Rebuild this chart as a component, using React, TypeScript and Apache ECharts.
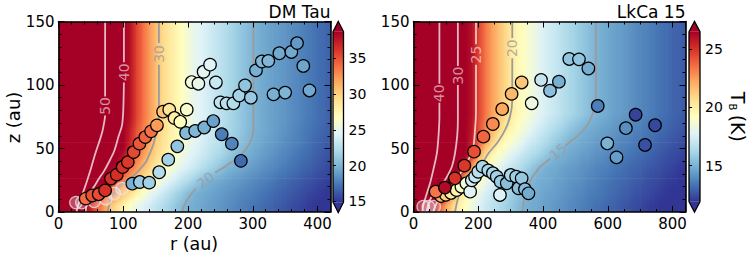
import React, { useEffect, useRef } from 'react';
import * as echarts from 'echarts';

const FONT = 'DejaVu Sans';
const PALETTE = ['#313695', '#4575b4', '#74add1', '#abd9e9', '#e0f3f8', '#ffffbf', '#fee090', '#fdae61', '#f46d43', '#d73027', '#a50026'];
const HOT = 'rgba(255,255,255,0.72)';
const COOL = '#9b9b9b';

// ---------------- DM Tau ----------------
const dmRMax = 420;
const dmTRange = [14.9, 38.7];
const dmCbTicks = [15, 20, 25, 30, 35];
const dmRStep = 10; // temperature knots every 10 au in r (0..420)
const dmRowZ = [5, 15, 25, 35, 45, 55, 65, 75]; // z (au) of each row of read temperatures
const dmT05 = [65, 59, 54, 49, 40, 36.8, 34.2, 32.3, 30.4, 29.0, 27.7, 26.4, 25.1, 24.4, 23.7, 23.0, 22.4, 21.7, 21.0, 20.3, 19.9, 19.6, 19.4, 19.1, 18.9, 18.6, 18.4, 18.1, 17.8, 17.6, 17.3, 17.1, 16.8, 16.6, 16.3, 16.0, 15.8, 15.5, 15.3, 15.0, 14.8, 14.5, 14.3];
const dmT15 = [70, 64, 58, 52, 47, 40.5, 37.9, 35.4, 33.7, 32.1, 30.5, 29.1, 27.7, 26.4, 25.1, 24.3, 23.5, 22.7, 21.9, 21.2, 20.4, 19.9, 19.6, 19.4, 19.1, 18.9, 18.6, 18.4, 18.1, 17.9, 17.7, 17.4, 17.2, 16.9, 16.7, 16.4, 16.2, 15.9, 15.7, 15.4, 15.2, 14.9, 14.7];
const dmT25 = [76, 70, 63, 57, 51, 46.5, 42.8, 39.4, 37.1, 34.9, 33.4, 32.0, 30.6, 29.2, 27.8, 26.7, 25.4, 24.5, 23.7, 22.9, 22.2, 21.4, 20.6, 19.95, 19.7, 19.4, 19.2, 18.9, 18.7, 18.4, 18.2, 17.9, 17.7, 17.4, 17.1, 16.9, 16.6, 16.4, 16.1, 15.9, 15.6, 15.4, 15.1];
const dmT35 = [80, 74, 68, 62, 55, 49.6, 46, 43, 40, 37.8, 35.5, 33.9, 32.4, 30.9, 29.6, 28.5, 27.4, 26.4, 25.3, 24.5, 23.9, 23.3, 22.6, 22.0, 21.4, 20.8, 20.1, 19.8, 19.5, 19.2, 18.9, 18.6, 18.3, 18.1, 17.8, 17.5, 17.2, 16.9, 16.6, 16.4, 16.1, 15.8, 15.5];
const dmT45 = [84, 78, 72, 66, 60, 53, 48.5, 45, 42.5, 40, 37.8, 35.5, 33.8, 32.3, 30.8, 29.5, 28.6, 27.5, 26.5, 25.6, 24.7, 24.2, 23.6, 23.0, 22.4, 21.9, 21.3, 20.7, 20.1, 19.8, 19.5, 19.1, 18.8, 18.5, 18.2, 17.9, 17.6, 17.3, 17.0, 16.7, 16.4, 16.1, 15.8];
const dmT55 = [86, 81, 76, 70, 64, 58, 51, 47.5, 44.5, 41.8, 39.3, 37.0, 34.8, 33.2, 31.7, 30.0, 29.1, 28.1, 27.2, 26.3, 25.3, 24.6, 24.1, 23.5, 23.0, 22.5, 21.9, 21.4, 20.8, 20.3, 19.8, 19.5, 19.2, 18.9, 18.6, 18.3, 18.0, 17.7, 17.4, 17.0, 16.7, 16.4, 16.1];
const dmT65 = [88, 83, 78, 72, 66, 60, 53, 48.5, 45, 42, 39.5, 37.3, 35.0, 33.4, 31.9, 30.3, 29.3, 28.3, 27.4, 26.5, 25.6, 24.8, 24.3, 23.7, 23.2, 22.7, 22.1, 21.6, 21.1, 20.5, 20.0, 19.7, 19.4, 19.1, 18.8, 18.5, 18.2, 17.8, 17.5, 17.2, 16.9, 16.6, 16.3];
const dmTTop = [90, 85, 80, 75, 70, 64, 57, 51, 47, 43.5, 40.2, 37.95, 35.7, 33.9, 32.3, 30.8, 29.5, 28.6, 27.7, 26.8, 25.8, 24.9, 24.4, 23.9, 23.3, 22.8, 22.2, 21.7, 21.1, 20.6, 20.1, 19.7, 19.4, 19.1, 18.9, 18.6, 18.3, 18.0, 17.7, 17.4, 17.1, 16.8, 16.5];
const dmRows = [dmT05, dmT15, dmT25, dmT35, dmT45, dmT55, dmT65, dmTTop];

const dmC50a = [[72, 150], [72, 91]];
const dmC50b = [[72, 76], [71, 72], [68, 64], [64, 57], [60, 51], [55, 43], [50, 34], [45, 26], [40, 18.4], [35, 11.5], [32, 7.9], [29, 3], [28, 0]];
const dmC40a = [[101, 150], [101, 118]];
const dmC40b = [[101, 102], [100, 80], [98, 68], [93, 60], [86, 48], [77.5, 39], [70, 32], [62, 26], [55, 20], [49, 15.7], [45, 10], [43, 5], [42, 0]];
const dmC30a = [[155, 150], [155, 133]];
const dmC30b = [[155, 116], [155, 80], [154, 68], [151, 62], [146, 52.5], [140, 45], [135, 39.3], [126, 34], [117, 29], [106, 25], [96.5, 21], [88, 16], [81, 10.5], [78, 5], [76, 0]];
const dmC20a = [[301, 150], [301, 66], [299, 59], [294, 53], [287, 48], [276, 42], [265, 38.5], [252, 34], [242, 31]];
const dmC20b = [[212, 18.5], [204, 13.5], [197, 8], [193, 4], [191, 0]];
const dmLabels: [number, number, string, number, string][] = [
  [72, 83.5, '50', 90, HOT], [101, 110, '40', 90, HOT], [155, 124.5, '30', 90, COOL], [227, 25, '20', 39, COOL],
];
const dmHollow = [[27, 7.4], [36, 7.4], [55, 8.4], [73, 10.5], [86, 14.5], [98, 18.4]];
const dmPoints = [
  [114, 22.3, 19.8], [125.5, 23.6, 21.3], [140, 23.1, 21.6], [155.5, 31.3, 22.4], [169.5, 41.2, 21.7], [183.5, 51.7, 20.9],
  [197, 62.2, 20.4], [211, 63.8, 20.2], [225, 66.5, 19.8], [239, 71.6, 19.2], [252, 61.2, 17.6], [267.6, 53.8, 17.9], [281.6, 40.3, 16.9],
  [42, 10.5, 34.0], [52, 13, 35.0], [62, 14, 35.2], [72, 17, 36.3], [81, 26.3, 36.4], [90, 29.4, 36.4], [99, 35.4, 36.3],
  [107, 39.3, 36.0], [116, 47.2, 35.3], [125, 53.8, 34.8], [134, 59, 34.3], [143, 63.5, 33.8], [152, 68.2, 32.2],
  [161.5, 79, 30.5], [171, 80.6, 28.8], [179, 74, 28.0], [188, 71, 26.8], [198, 80.6, 26.2],
  [205.6, 102.3, 25.6], [216, 101, 25.0], [224, 110.4, 24.7], [234, 116, 24.5], [243, 102, 23.4],
  [250, 86.3, 23.0], [259.5, 85.5, 22.7], [270, 85.5, 22.4], [279, 91.7, 21.7], [288, 99.6, 20.9], [297, 90, 21.2],
  [305, 111.5, 19.8], [314, 118.5, 20.2], [324, 119, 20.2], [341, 125, 19.5], [359.6, 126, 19.5], [368.4, 133, 18.8],
  [378, 115, 19.3], [332, 92.6, 19.8], [350, 94, 20.1], [387.5, 95.7, 19.5],
];

// ---------------- LkCa 15 ----------------
const lkRMax = 840;
const lkTRange = [11.9, 26.5];
const lkCbTicks = [15, 20, 25];
const lkRStep = 20; // knots every 20 au (0..840)
const lkRowZ = [5, 15, 25, 35, 45, 55, 65, 78];
const lkT05 = [52, 42, 34.4, 27.0, 24.0, 22.2, 20.9, 19.8, 19.1, 18.4, 17.7, 17.2, 16.8, 16.5, 16.1, 15.7, 15.3, 15.0, 14.8, 14.7, 14.5, 14.4, 14.2, 14.1, 13.9, 13.8, 13.6, 13.5, 13.3, 13.2, 13.0, 12.9, 12.7, 12.6, 12.4, 12.3, 12.1, 12.0, 11.8, 11.7, 11.5, 11.4, 11.2];
const lkT15 = [58, 48, 40, 32.6, 27.7, 25.0, 22.5, 20.7, 19.6, 18.9, 18.2, 17.5, 17.1, 16.7, 16.4, 16.0, 15.6, 15.2, 14.9, 14.8, 14.6, 14.5, 14.4, 14.2, 14.1, 13.9, 13.8, 13.6, 13.5, 13.4, 13.2, 13.1, 12.9, 12.8, 12.6, 12.5, 12.4, 12.2, 12.1, 11.9, 11.8, 11.6, 11.5];
const lkT25 = [62, 54, 46, 38.1, 33.8, 29.7, 26.5, 23.8, 21.3, 19.7, 19.1, 18.4, 17.7, 17.2, 16.8, 16.4, 16.0, 15.6, 15.2, 14.9, 14.8, 14.7, 14.5, 14.4, 14.2, 14.1, 14.0, 13.8, 13.7, 13.5, 13.4, 13.2, 13.1, 13.0, 12.8, 12.7, 12.5, 12.4, 12.3, 12.1, 12.0, 11.8, 11.7];
const lkT35 = [66, 56, 48, 41.5, 37, 33, 29.9, 27.1, 24.8, 22.4, 20.5, 19.5, 18.8, 18.1, 17.4, 17.0, 16.6, 16.2, 15.7, 15.3, 15.0, 14.8, 14.7, 14.5, 14.4, 14.3, 14.1, 14.0, 13.8, 13.7, 13.6, 13.4, 13.3, 13.1, 13.0, 12.9, 12.7, 12.6, 12.5, 12.3, 12.2, 12.0, 11.9];
const lkT45 = [68, 58, 50, 43, 38.5, 34, 31, 28.5, 26.4, 24.5, 22.4, 20.7, 19.7, 19.0, 18.4, 17.8, 17.3, 16.9, 16.5, 16.2, 15.8, 15.4, 15.0, 14.9, 14.7, 14.6, 14.4, 14.3, 14.1, 14.0, 13.8, 13.7, 13.6, 13.4, 13.3, 13.1, 13.0, 12.8, 12.7, 12.5, 12.4, 12.3, 12.1];
const lkT55 = [70, 60, 51, 44, 39.5, 35, 31.5, 29.1, 27.1, 25.6, 24.0, 22.4, 21.2, 20.0, 19.4, 18.8, 18.3, 17.7, 17.2, 16.9, 16.5, 16.1, 15.7, 15.4, 15.0, 14.9, 14.7, 14.6, 14.4, 14.3, 14.1, 14.0, 13.8, 13.7, 13.5, 13.4, 13.2, 13.1, 12.9, 12.8, 12.6, 12.5, 12.3];
const lkT65 = [70, 60, 52, 45, 39.8, 35.5, 32, 29.4, 27.4, 25.8, 24.4, 23.1, 22.0, 21.1, 20.2, 19.6, 19.0, 18.5, 17.9, 17.4, 17.1, 16.7, 16.3, 16.0, 15.6, 15.3, 15.0, 14.8, 14.7, 14.5, 14.4, 14.2, 14.0, 13.9, 13.7, 13.6, 13.4, 13.3, 13.1, 13.0, 12.8, 12.7, 12.5];
const lkTTop = [70, 60, 52, 45, 40, 35.8, 32.5, 29.7, 27.6, 26.0, 24.6, 23.5, 22.5, 21.7, 21.0, 20.2, 19.6, 19.1, 18.6, 18.1, 17.6, 17.3, 17.0, 16.6, 16.3, 16.0, 15.7, 15.4, 15.05, 14.9, 14.7, 14.5, 14.4, 14.2, 14.0, 13.8, 13.7, 13.5, 13.3, 13.2, 13.0, 12.9, 12.7];
const lkRows = [lkT05, lkT15, lkT25, lkT35, lkT45, lkT55, lkT65, lkTTop];

const lkC40a = [[80, 150], [80, 101]];
const lkC40b = [[80, 86], [80, 75], [77, 59], [72, 46], [61, 33], [51, 22.6], [38, 12], [30, 5], [27, 0]];
const lkC30a = [[137, 150], [137, 115]];
const lkC30b = [[137, 100], [137, 72], [135, 60], [128, 46], [119, 36], [108, 30], [97, 25], [80, 19], [66, 15], [56, 12], [47, 7], [42, 2], [41, 0]];
const lkC25a = [[193, 150], [193, 132]];
const lkC25b = [[193, 116], [193, 78], [190, 65], [185, 51.4], [175, 44], [159, 36], [145, 30.5], [131, 25], [118, 20], [100, 14], [86, 11], [77, 9.4], [68, 5], [62, 0]];
const lkC20a = [[305, 150], [305, 137]];
const lkC20b = [[305, 121], [305, 88], [298, 75], [283, 64.6], [260, 55], [231, 46], [205, 35], [180, 27.8], [165, 23], [148, 16], [139, 12], [133, 6], [128, 0]];
const lkC15a = [[563, 150], [563, 93], [560, 85], [550, 75], [530, 66], [504, 59.3], [480, 54.5], [468, 52]];
const lkC15b = [[422, 42], [405, 38.5], [391, 35.7], [380, 32], [366, 27], [355, 21], [347, 15], [340, 8], [336, 0]];
const lkLabels: [number, number, string, number, string][] = [
  [80, 93.5, '40', 90, HOT], [137, 107.5, '30', 90, HOT], [193, 124, '25', 90, HOT], [305, 129, '20', 90, COOL], [447, 47.5, '15', 40, COOL],
];
const lkHollow = [[30, 4.2], [46, 4.2], [64, 4.2]];
const lkPoints = [
  [85, 12.5, 22.1], [100, 13.5, 21.2], [116, 15, 20.3], [133, 17.2, 19.7], [148, 19.9, 19.0], [163, 22.6, 18.5], [175, 16, 17.8],
  [180, 25, 17.3], [190, 27.8, 17.0], [200, 31.7, 16.7], [213, 35.7, 16.3], [231, 32.7, 16.2], [245, 30.5, 16.2], [257, 27.8, 16.0],
  [269, 23.9, 15.8], [267, 13.4, 17.7], [288, 22.6, 15.4], [300, 29.1, 16.2], [317, 27.8, 15.9], [324, 18.7, 15.4], [334, 26.5, 15.7],
  [344, 17.9, 15.3], [355, 14.7, 14.8],
  [68.5, 16, 23.4], [97, 19.2, 26.2], [128, 26.5, 25.0], [157, 36.5, 24.9], [187, 47.5, 24.3], [216, 59.3, 23.8], [245, 69.3, 22.9],
  [274, 81, 22.2], [303, 93, 21.8], [334, 102, 21.4],
  [365, 85.6, 18.3], [394, 104, 17.0], [421.5, 95.5, 15.4], [449, 102.6, 14.9], [481, 120.5, 15.6], [511, 120.2, 15.6], [540, 113, 14.9],
  [569, 83.5, 13.6], [686, 76.6, 12.2], [656, 66, 14.0], [746, 68.3, 12.3], [598.5, 54, 15.0], [715, 52.8, 12.5], [627, 43, 14.4],
];

// ---------------- helpers ----------------
function colorFor(T: number, range: number[]): string {
  const n = Math.max(0, Math.min(1, (T - range[0]) / (range[1] - range[0])));
  return echarts.color.lerp(n, PALETTE) as string;
}

// Each cell spans two neighbouring read knots in r and two neighbouring read rows in z.
function buildCells(rows: number[][], rowZ: number[], step: number, zMax: number) {
  const bands: [number, number, number[], number[]][] = [];
  bands.push([0, rowZ[0], rows[0], rows[0]]);
  for (let k = 0; k < rows.length - 1; k++) bands.push([rowZ[k], rowZ[k + 1], rows[k], rows[k + 1]]);
  bands.push([rowZ[rowZ.length - 1], zMax, rows[rows.length - 1], rows[rows.length - 1]]);
  const cells: number[][] = [];
  bands.forEach(([za, zb, ra, rb]) => {
    for (let i = 0; i < ra.length - 1; i++) {
      cells.push([i * step, (i + 1) * step, za, zb, ra[i], ra[i + 1], rb[i], rb[i + 1]]);
    }
  });
  return cells;
}

type Panel = {
  rows: number[][]; rowZ: number[]; step: number; range: number[];
  contours: { seg: number[][]; color: string }[];
  labels: [number, number, string, number, string][];
  hollow: number[][]; points: number[][];
};

const dmPanel: Panel = {
  rows: dmRows, rowZ: dmRowZ, step: dmRStep, range: dmTRange,
  contours: [
    { seg: dmC50a, color: HOT }, { seg: dmC50b, color: HOT }, { seg: dmC40a, color: HOT }, { seg: dmC40b, color: HOT },
    { seg: dmC30a, color: COOL }, { seg: dmC30b, color: COOL }, { seg: dmC20a, color: COOL }, { seg: dmC20b, color: COOL },
  ],
  labels: dmLabels, hollow: dmHollow, points: dmPoints,
};
const lkPanel: Panel = {
  rows: lkRows, rowZ: lkRowZ, step: lkRStep, range: lkTRange,
  contours: [
    { seg: lkC40a, color: HOT }, { seg: lkC40b, color: HOT }, { seg: lkC30a, color: HOT }, { seg: lkC30b, color: HOT },
    { seg: lkC25a, color: HOT }, { seg: lkC25b, color: HOT }, { seg: lkC20a, color: COOL }, { seg: lkC20b, color: COOL },
    { seg: lkC15a, color: COOL }, { seg: lkC15b, color: COOL },
  ],
  labels: lkLabels, hollow: lkHollow, points: lkPoints,
};

function panelSeries(p: Panel, xi: number, yi: number, cbx: number, cby: number) {
  const s: any[] = [];
  const range = p.range;
  s.push({
    type: 'custom', xAxisIndex: xi, yAxisIndex: yi, clip: true, silent: true, z: 1,
    data: buildCells(p.rows, p.rowZ, p.step, 150),
    renderItem: (_params: any, api: any) => {
      const r0 = api.value(0), r1 = api.value(1), za = api.value(2), zb = api.value(3);
      const a0 = api.value(4), a1 = api.value(5), b0 = api.value(6), b1 = api.value(7);
      const flat = a0 === b0 && a1 === b1;
      const n = flat ? 1 : 6;
      const children: any[] = [];
      for (let j = 0; j < n; j++) {
        const f = flat ? 0 : (j + 0.5) / n;
        const zLo = za + ((zb - za) * j) / n;
        const zHi = za + ((zb - za) * (j + 1)) / n;
        const p0 = api.coord([r0, zHi]);
        const p1 = api.coord([r1, zLo]);
        children.push({
          type: 'rect',
          shape: { x: p0[0], y: p0[1], width: p1[0] - p0[0] + 0.7, height: p1[1] - p0[1] + 0.7 },
          style: {
            fill: new echarts.graphic.LinearGradient(0, 0, 1, 0, [
              { offset: 0, color: colorFor(a0 + (b0 - a0) * f, range) },
              { offset: 1, color: colorFor(a1 + (b1 - a1) * f, range) },
            ]),
          },
        });
      }
      return { type: 'group', children };
    },
  });
  p.contours.forEach((c) => {
    s.push({
      type: 'line', xAxisIndex: xi, yAxisIndex: yi, data: c.seg, symbol: 'none', smooth: 0.3, silent: true, z: 2, clip: true,
      lineStyle: { color: c.color, width: 1.8 },
    });
  });
  s.push({
    type: 'scatter', xAxisIndex: xi, yAxisIndex: yi, silent: true, z: 2, symbolSize: 0,
    data: p.labels.map((l) => ({
      value: [l[0], l[1]],
      label: { formatter: l[2], rotate: l[3], color: l[4] },
    })),
    label: { show: true, position: 'inside', fontSize: 14, fontFamily: FONT },
  });
  s.push({
    type: 'scatter', xAxisIndex: xi, yAxisIndex: yi, silent: true, z: 3, symbolSize: 12.5, data: p.hollow,
    itemStyle: { color: 'rgba(255,255,255,0.35)', borderColor: 'rgba(238,228,228,0.95)', borderWidth: 1.3 },
  });
  s.push({
    type: 'scatter', xAxisIndex: xi, yAxisIndex: yi, silent: true, z: 4, symbolSize: 12.5, data: p.points,
    itemStyle: { color: (q: any) => colorFor(q.data[2], range), borderColor: '#000', borderWidth: 1.2, opacity: 1 },
  });
  s.push({
    type: 'custom', xAxisIndex: cbx, yAxisIndex: cby, clip: false, silent: true, z: 5,
    data: [[0, range[0], range[1]]],
    renderItem: (_params: any, api: any) => {
      const a = api.coord([0, api.value(2)]);
      const b = api.coord([1, api.value(1)]);
      const x0 = a[0], x1 = b[0], y0 = a[1], y1 = b[1], xm = (x0 + x1) / 2, tip = 10.3;
      const stops = PALETTE.map((_c, i) => ({ offset: i / (PALETTE.length - 1), color: PALETTE[PALETTE.length - 1 - i] }));
      return {
        type: 'group',
        children: [
          { type: 'rect', shape: { x: x0, y: y0, width: x1 - x0, height: y1 - y0 }, style: { fill: new echarts.graphic.LinearGradient(0, 0, 0, 1, stops) } },
          { type: 'polygon', shape: { points: [[x0, y0], [xm, y0 - tip], [x1, y0]] }, style: { fill: PALETTE[PALETTE.length - 1] } },
          { type: 'polygon', shape: { points: [[x0, y1], [xm, y1 + tip], [x1, y1]] }, style: { fill: PALETTE[0] } },
          { type: 'polygon', shape: { points: [[x0, y0], [xm, y0 - tip], [x1, y0], [x1, y1], [xm, y1 + tip], [x0, y1]] }, style: { fill: 'none', stroke: '#000', lineWidth: 1.3 } },
        ],
      };
    },
  });
  return s;
}

function frameAxis(kind: 'x' | 'y', grid: number, pos: string, max: number, interval: number, minorSplit: number, labels: boolean) {
  return {
    type: 'value', gridIndex: grid, position: pos, min: 0, max, interval, z: 10,
    axisLine: { show: true, onZero: false, lineStyle: { color: '#000', width: 1.6 } },
    axisTick: { show: true, inside: true, length: 6, lineStyle: { color: '#000', width: 1 } },
    minorTick: { show: true, splitNumber: minorSplit, length: 3, lineStyle: { color: '#000', width: 1 } },
    axisLabel: { show: labels, color: '#000', fontSize: 15, fontFamily: FONT, margin: 4, showMaxLabel: kind === 'y' },
    splitLine: { show: false },
    minorSplitLine: { show: false },
  };
}

function cbYAxis(grid: number, range: number[], ticks: number[], fontSize: number) {
  return {
    type: 'value', gridIndex: grid, position: 'right', min: range[0], max: range[1], z: 10,
    axisLine: { show: false },
    axisTick: { show: true, inside: false, length: 3, customValues: ticks, lineStyle: { color: '#000', width: 1 } },
    axisLabel: { show: true, customValues: ticks, color: '#000', fontSize, fontFamily: FONT, margin: 5 },
    splitLine: { show: false },
  };
}

const cbXAxis = (grid: number) => ({ type: 'value', gridIndex: grid, min: 0, max: 1, show: false });

export default function App() {
  const ref = useRef<HTMLDivElement>(null);
  useEffect(() => {
    if (!ref.current) return;
    const chart = echarts.init(ref.current, undefined, { renderer: 'svg' });
    const option: any = {
      animation: false,
      textStyle: { fontFamily: FONT },
      grid: [
        { left: 58.5, top: 21.5, width: 272, height: 190.5, show: false },
        { left: 413.5, top: 21.5, width: 272, height: 190.5, show: false },
        { left: 333, top: 31.7, width: 10.5, height: 170.5, show: false },
        { left: 689, top: 31.7, width: 11, height: 170, show: false },
      ],
      xAxis: [
        frameAxis('x', 0, 'bottom', dmRMax, 100, 5, true),
        frameAxis('x', 0, 'top', dmRMax, 100, 5, false),
        frameAxis('x', 1, 'bottom', lkRMax, 200, 4, true),
        frameAxis('x', 1, 'top', lkRMax, 200, 4, false),
        cbXAxis(2),
        cbXAxis(3),
      ],
      yAxis: [
        frameAxis('y', 0, 'left', 150, 50, 5, true),
        frameAxis('y', 0, 'right', 150, 50, 5, false),
        frameAxis('y', 1, 'left', 150, 50, 5, true),
        frameAxis('y', 1, 'right', 150, 50, 5, false),
        cbYAxis(2, dmTRange, dmCbTicks, 14),
        cbYAxis(3, lkTRange, lkCbTicks, 14),
      ],
      series: [...panelSeries(dmPanel, 0, 0, 4, 4), ...panelSeries(lkPanel, 2, 2, 5, 5)],
      graphic: [
        { type: 'text', x: 330.5, y: 12, style: { text: 'DM Tau', fontSize: 17, fontFamily: FONT, fill: '#000', align: 'right', verticalAlign: 'middle' } },
        { type: 'text', x: 685.5, y: 12, style: { text: 'LkCa 15', fontSize: 17, fontFamily: FONT, fill: '#000', align: 'right', verticalAlign: 'middle' } },
        { type: 'text', x: 194, y: 244, style: { text: 'r (au)', fontSize: 17.5, fontFamily: FONT, fill: '#000', align: 'center', verticalAlign: 'middle' } },
        { type: 'text', x: 13.5, y: 117.5, rotation: Math.PI / 2, style: { text: 'z (au)', fontSize: 18, fontFamily: FONT, fill: '#000', align: 'center', verticalAlign: 'middle' } },
        {
          type: 'group', x: 737.5, y: 91.7, rotation: -Math.PI / 2,
          children: [
            { type: 'text', x: 0, y: 0, style: { text: 'T', fontSize: 19, fontFamily: FONT, fill: '#000', align: 'left', verticalAlign: 'middle' } },
            { type: 'text', x: 11.8, y: 5, style: { text: 'B', fontSize: 10, fontFamily: FONT, fill: '#000', align: 'left', verticalAlign: 'middle' } },
            { type: 'text', x: 23, y: 0, style: { text: '(K)', fontSize: 19, fontFamily: FONT, fill: '#000', align: 'left', verticalAlign: 'middle' } },
          ],
        },
      ],
    };
    chart.setOption(option);
    return () => chart.dispose();
  }, []);
  return <div ref={ref} style={{ position: 'fixed', left: 0, top: 0, width: 748, height: 257, background: '#fff' }} />;
}
